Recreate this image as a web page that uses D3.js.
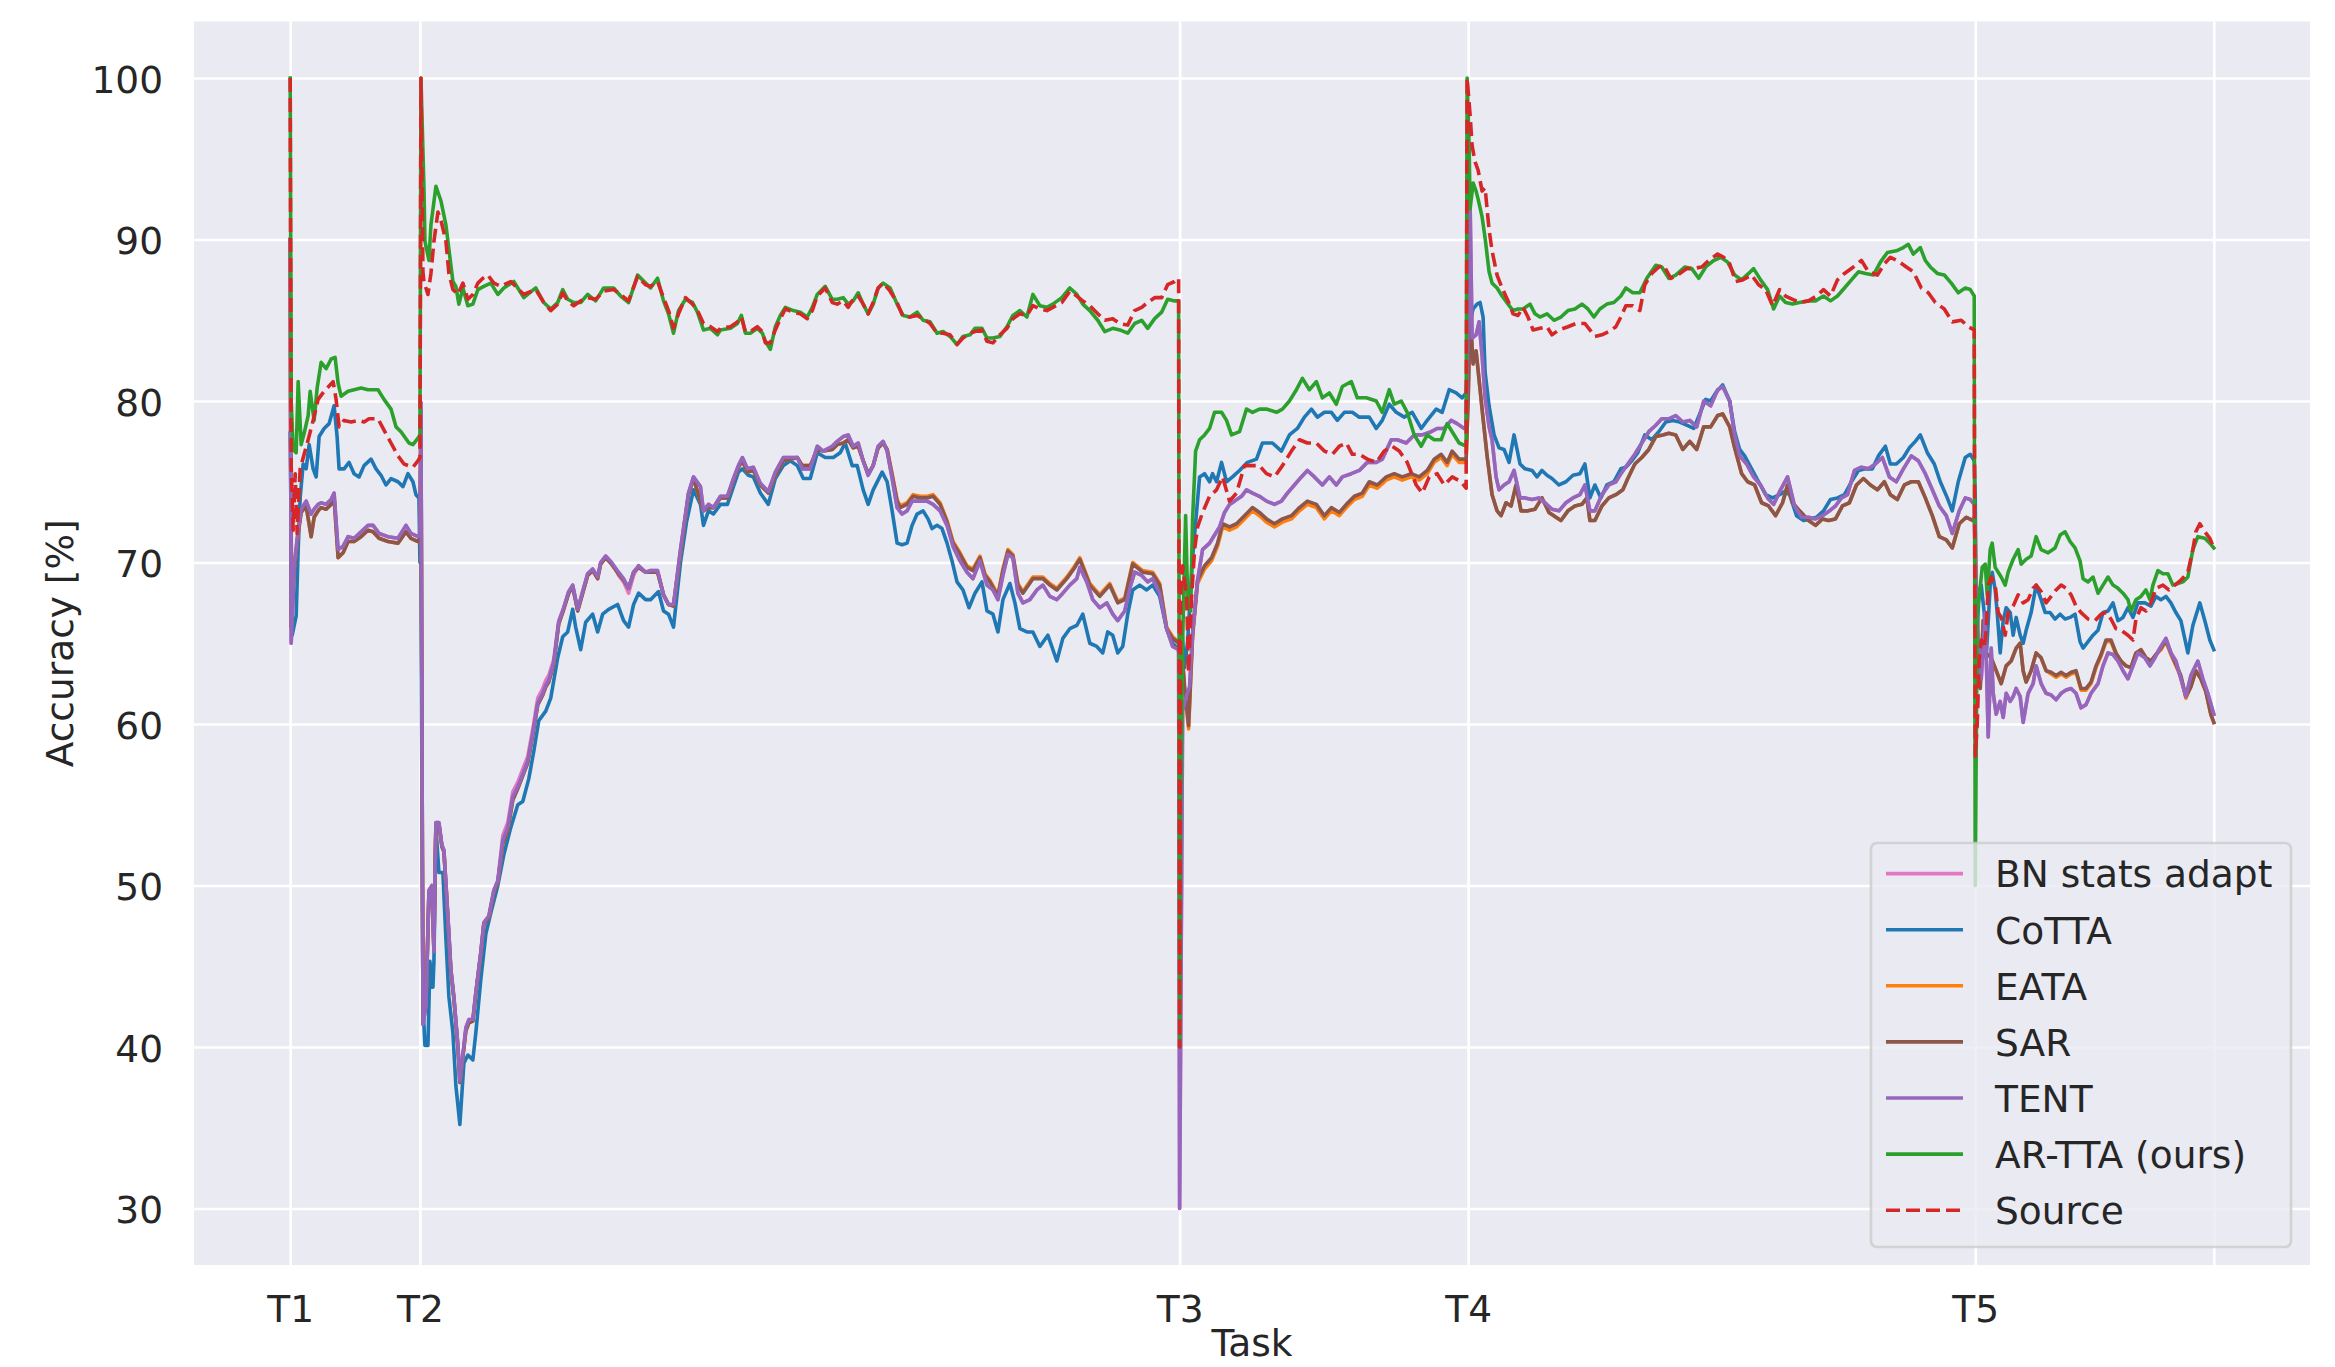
<!DOCTYPE html>
<html>
<head>
<meta charset="utf-8">
<script src="https://cdn.jsdelivr.net/npm/d3@7"></script>
<style>
  html, body { margin: 0; padding: 0; background: #fff; }
  svg { display: block; }
</style>
</head>
<body>
<div id="chart"></div>
<script>
// task boundaries (frame index) and their labels
const taskFrames = [0, 130, 891, 1180, 1688, 1927];
const taskLabels = ['T1', 'T2', 'T3', 'T4', 'T5', ''];
const accuracyTicks = [30, 40, 50, 60, 70, 80, 90, 100];
const methodNames = ['BN stats adapt', 'CoTTA', 'EATA', 'SAR', 'TENT', 'AR-TTA (ours)', 'Source'];

// accuracy [%] per method, as [frame, accuracy] pairs
const bnStatsAcc = [
  [0,90],[1,65],[4,69.8],[8,72],[11,73.3],[16,73.8],[21,73],[24,73.3],[28,73.6],[31,73.7],[36,73.6],[41,73.9],[44,74.3],[48,70.8],[53,71],[58,71.6],[64,71.5],[71,71.9],[78,72.3],[83,72.3],[89,71.8],[98,71.6],[108,71.5],[116,72.3],[121,71.8],[128,71.6],[130,71.8],
  [131,79.9],[132,60],[133,41.4],[136,42.5],[139,49.7],[142,50],[144,45.9],[145,50.8],[146,53.9],[149,53.9],[152,52.5],[154,52.2],[158,48.1],[161,44.8],[164,43.1],[168,40.1],[170,37.9],[173,39.5],[176,41.2],[179,41.7],[183,41.7],[186,43.4],[191,45.9],[194,47.7],[199,48.1],[204,49.7],[208,50.3],[213,53.1],[218,53.9],[223,55.8],[228,56.4],[233,57.2],[238,58],[243,59.7],[248,61.6],[253,62.2],[256,62.7],[259,63],[264,64],[269,66.4],[274,67.2],[279,68.2],[283,68.6],[288,67.1],[293,68.2],[298,69.3],[303,69.6],[308,69.1],[311,70],[316,70.4],[322,70],[329,69.2],[334,68.8],[339,68.1],[344,69.2],[349,69.8],[356,69.4],[361,69.5],[368,69.5],[374,68],[379,67.4],[384,67.4],[391,70.8],[399,74.3],[404,75.3],[411,74.7],[414,73.2],[419,73.6],[424,73.4],[431,74.1],[438,74.1],[444,75.2],[449,76],[453,76.5],[458,75.8],[464,75.9],[471,74.9],[479,74.4],[486,75.6],[494,76.5],[501,76.5],[508,76.5],[513,75.8],[521,75.8],[528,77.2],[534,76.9],[543,77.2],[548,77.5],[554,77.8],[559,77.9],[564,77.2],[569,77.4],[574,76.3],[579,75.4],[584,76],[589,77.2],[594,77.5],[598,76.9],[603,75.2],[608,73.4],[613,73],[618,73.2],[623,73.8],[631,73.8],[638,73.8],[644,73.6],[651,73.2],[658,72.3],[664,71],[671,70.1],[678,69.4],[684,69],[691,70.1],[698,68.6],[704,68.3],[709,67.7],[714,69.2],[719,70.5],[724,70.3],[729,68.1],[734,67.5],[741,67.7],[748,68.3],[754,68.6],[761,67.9],[768,67.7],[774,68.1],[781,68.6],[788,69],[791,69.7],[798,68.8],[804,67.7],[811,67.2],[818,67.5],[824,66.8],[829,66.4],[836,67],[842,68.6],[846,69.4],[853,69.2],[859,68.8],[864,69],[871,68.1],[878,65.9],[884,64.8],[890,64.6],
  [891,30],[894,60.8],[898,61.8],[901,62.3],[904,65.6],[909,68.9],[914,70.8],[921,71.2],[926,71.7],[931,72.2],[936,73.1],[941,73.6],[946,73.8],[953,74.1],[958,74.5],[964,74.3],[971,74.1],[978,73.8],[986,73.6],[993,73.8],[999,74.3],[1006,74.8],[1013,75.3],[1019,75.7],[1026,75.3],[1034,74.8],[1041,75.3],[1048,74.8],[1054,75.3],[1063,75.5],[1071,75.7],[1079,76.2],[1088,76.2],[1094,76.4],[1103,77.6],[1109,77.6],[1118,77.4],[1126,77.9],[1134,77.9],[1143,78.1],[1149,78.3],[1156,78.3],[1163,78.8],[1169,78.6],[1176,78.3],[1178,78.4],
  [1180,85],[1182,92.2],[1184,83.9],[1188,84.1],[1191,84.9],[1194,82.8],[1197,80.2],[1201,78.4],[1204,77.6],[1208,75.3],[1211,74.5],[1216,74.8],[1221,75],[1226,75.7],[1232,74],[1237,74],[1244,73.9],[1251,74],[1257,73.7],[1264,73.3],[1271,73.2],[1278,73.7],[1285,74],[1292,74.2],[1297,74.8],[1302,73.2],[1307,73.2],[1314,74.2],[1321,74.8],[1328,75],[1333,75.5],[1340,76.1],[1347,76.7],[1354,77.4],[1361,78.1],[1368,78.5],[1374,78.9],[1381,78.9],[1388,79.1],[1395,78.7],[1402,78.8],[1409,78.4],[1416,80],[1423,79.7],[1430,80.7],[1435,80.9],[1442,80],[1447,77.9],[1452,76.6],[1459,76.1],[1466,75.3],[1473,74.8],[1480,74],[1486,73.6],[1493,74.5],[1500,75.3],[1507,73.5],[1514,72.8],[1521,72.8],[1528,72.7],[1535,72.9],[1542,73.2],[1548,73.5],[1554,74],[1560,74.2],[1567,75.7],[1574,75.9],[1581,75.8],[1588,76.1],[1595,76.5],[1602,75.3],[1609,75],[1616,75.8],[1624,76.6],[1631,76.3],[1638,75.5],[1645,74.5],[1652,73.5],[1659,72.9],[1665,71.8],[1672,73.2],[1678,74],[1683,73.9],[1687,73.6],
  [1688,70],[1691,65.3],[1694,62.8],[1698,66.9],[1701,59.2],[1704,64.7],[1706,61.9],[1709,60.6],[1713,61.4],[1716,60.4],[1719,61.9],[1723,61.4],[1726,61.7],[1729,62.2],[1733,61.7],[1736,60.1],[1741,61.9],[1746,62.5],[1749,63.6],[1754,62.5],[1759,61.9],[1764,61.8],[1769,61.5],[1774,61.9],[1779,62.1],[1784,62.2],[1789,61.9],[1794,61],[1799,61.2],[1804,61.9],[1811,62.5],[1816,63.6],[1821,64.4],[1826,64.3],[1831,63.9],[1836,63.3],[1841,62.8],[1846,63.6],[1851,64.4],[1858,64.1],[1863,63.6],[1868,64.1],[1873,64.7],[1879,65.3],[1884,64.4],[1889,63.9],[1894,62.8],[1899,61.7],[1904,63],[1911,63.9],[1916,62.8],[1921,61.9],[1927,60.6]
];

const cottaAcc = [
  [0,78],[2,65.5],[6,66.7],[8,70.8],[10,74],[13,76.1],[16,75.8],[19,77.3],[23,75.8],[26,75.3],[29,77.8],[34,78.3],[39,78.6],[44,79.7],[47,77.8],[49,75.8],[54,75.8],[59,76.2],[64,75.5],[69,75.3],[74,76],[81,76.4],[86,75.8],[91,75.4],[96,74.8],[101,75.2],[108,75],[113,74.7],[118,75.5],[123,75],[126,74.2],[129,74],[130,70],
  [131,70],[132,55],[133,42.6],[135,40.1],[138,40.1],[140,45.3],[142,43.7],[143,43.7],[144,45.3],[146,53.6],[149,50.8],[153,50.8],[156,46.7],[159,43.1],[163,40.9],[166,37.6],[170,35.2],[174,39],[178,39.5],[183,39.2],[186,40.9],[191,44.2],[196,47],[201,48.3],[208,50],[214,51.9],[221,53.6],[228,55],[233,55.2],[239,56.6],[244,58.3],[249,60.2],[256,60.8],[261,61.6],[268,64.1],[273,65.4],[278,65.7],[283,67.1],[286,66],[291,64.6],[296,66.3],[303,66.8],[308,65.7],[313,66.8],[319,67.1],[328,67.4],[334,66.4],[339,66],[344,67.4],[349,68.1],[356,67.7],[361,67.7],[369,68.2],[374,67],[379,66.8],[384,66],[391,70],[397,72.5],[404,74.5],[411,73.6],[414,72.3],[419,73.2],[424,73],[431,73.6],[438,73.6],[444,74.7],[449,75.6],[453,75.8],[459,75.4],[464,75.3],[471,74.3],[479,73.6],[486,75.2],[494,76],[501,76.3],[508,76],[514,75.2],[521,75.2],[528,76.8],[536,76.5],[544,76.5],[551,76.8],[556,77.4],[563,76],[568,76],[574,74.5],[579,73.6],[584,74.5],[593,75.6],[598,75],[603,73.2],[608,71.2],[613,71.1],[618,71.2],[623,72.3],[628,73],[634,73.2],[639,72.7],[643,72.1],[648,72.3],[653,72.1],[658,71.2],[663,70.1],[668,68.8],[674,68.3],[680,67.2],[686,68.1],[693,68.8],[698,67],[704,66.8],[709,65.7],[714,67.7],[721,68.7],[726,67.5],[731,65.9],[738,65.7],[744,65.7],[751,64.8],[759,65.5],[768,63.9],[774,65.3],[781,65.9],[788,66.1],[794,66.8],[801,65],[808,64.8],[814,64.4],[819,65.7],[824,65.5],[829,64.4],[834,64.8],[839,66.8],[844,68.3],[851,68.6],[858,68.3],[864,68.6],[871,67.9],[878,65.9],[884,65],[890,64.6],
  [891,62],[893,66],[896,63.5],[899,65.1],[904,70.3],[911,75.3],[916,75.5],[921,75],[924,75.5],[928,75],[933,76.2],[938,75],[944,75.3],[951,75.7],[959,76.2],[968,76.4],[974,77.4],[984,77.4],[993,76.9],[1001,77.9],[1009,78.3],[1016,79],[1023,79.5],[1029,79],[1036,79.3],[1043,79.3],[1049,78.8],[1056,79.3],[1064,79.3],[1071,79],[1081,79],[1088,78.3],[1094,78.8],[1101,79.8],[1108,79.3],[1116,79],[1124,79.3],[1133,78.3],[1139,78.8],[1148,79.5],[1154,79.3],[1161,80.7],[1168,80.5],[1174,80.2],[1178,80.5],
  [1180,82.8],[1182,84.9],[1185,85.7],[1189,86],[1192,86.1],[1195,85.2],[1197,81.8],[1201,79.7],[1206,77.9],[1211,77.1],[1216,77],[1221,76.2],[1226,77.9],[1232,76.1],[1237,75.8],[1244,75.7],[1249,75.3],[1254,75.7],[1259,75.4],[1264,75.2],[1271,74.8],[1278,75],[1285,75.4],[1292,75.5],[1297,76.1],[1302,74],[1307,74.8],[1313,74],[1319,74.8],[1326,75],[1333,75.8],[1338,75.9],[1344,76.3],[1350,76.8],[1357,77.9],[1364,77.6],[1371,78.1],[1378,78.7],[1385,78.8],[1392,78.7],[1399,78.5],[1406,78.3],[1412,79.2],[1418,80.1],[1423,80],[1428,80.5],[1435,81],[1442,80],[1447,78.1],[1452,77],[1457,76.6],[1464,75.8],[1471,75],[1478,74.2],[1485,74],[1492,74.2],[1497,74.4],[1502,74.2],[1509,72.9],[1516,72.6],[1523,72.7],[1529,72.8],[1536,73.2],[1543,73.9],[1550,74],[1557,74.2],[1564,75],[1571,75.7],[1578,75.8],[1585,75.8],[1591,76.6],[1598,77.2],[1603,76.1],[1609,76.1],[1616,76.5],[1622,77.1],[1628,77.5],[1633,77.9],[1640,76.8],[1647,76.1],[1653,75],[1660,74],[1665,73.2],[1671,75],[1678,76.5],[1683,76.7],[1687,76.3],
  [1688,74],[1689,64.7],[1692,68.3],[1694,68.6],[1697,66.9],[1699,64.1],[1703,68.6],[1705,69.4],[1708,68.3],[1710,66.9],[1713,64.4],[1716,66.4],[1719,67.2],[1723,66.9],[1726,65.5],[1729,66.6],[1733,65.5],[1736,65],[1739,65.8],[1744,66.9],[1749,68.6],[1754,67.7],[1758,66.9],[1763,66.9],[1768,66.5],[1773,66.8],[1778,66.5],[1783,66.6],[1788,66.8],[1793,65.1],[1796,64.7],[1801,65.1],[1806,65.5],[1811,65.8],[1816,66.9],[1821,67],[1826,67.5],[1831,66.4],[1836,66.6],[1841,67.2],[1846,66.6],[1851,67.5],[1858,67.5],[1864,67.3],[1869,67.9],[1874,67.7],[1879,67.9],[1884,67.5],[1889,66.9],[1894,66.4],[1901,64.4],[1906,66.1],[1913,67.5],[1918,66.4],[1923,65.2],[1927,64.6]
];

const eataAcc = [
  [0,90],[1,66],[4,69.5],[8,71.8],[11,73.1],[16,73.5],[21,71.6],[24,72.8],[28,73.2],[31,73.4],[36,73.3],[41,73.6],[44,74],[48,70.3],[53,70.6],[58,71.3],[64,71.3],[71,71.6],[78,72],[83,71.9],[89,71.5],[98,71.3],[108,71.2],[116,71.9],[121,71.5],[128,71.3],[130,71.5],
  [131,79.5],[132,60],[133,41.6],[136,42.6],[139,49.5],[142,49.9],[144,46],[145,50.6],[146,53.7],[149,53.8],[152,52.4],[154,52.1],[158,48],[161,44.7],[164,43],[168,40],[170,37.8],[173,39.4],[176,41],[179,41.5],[183,41.6],[186,43.3],[191,45.8],[194,47.6],[199,48],[204,49.6],[208,50.2],[213,52.6],[218,53.4],[223,55.3],[228,56],[233,56.8],[238,57.6],[243,59.3],[248,61.2],[253,61.8],[256,62.3],[259,62.6],[264,63.7],[269,66.2],[274,67.1],[279,68.1],[283,68.5],[288,67],[293,68.1],[298,69.2],[303,69.5],[308,69],[311,69.9],[316,70.3],[322,69.9],[329,69.3],[334,68.9],[339,68.4],[344,69.4],[349,69.7],[356,69.4],[361,69.4],[368,69.4],[374,68],[379,67.4],[384,67.3],[391,70.6],[399,74.2],[404,75.2],[411,73.8],[414,73.2],[419,73.4],[424,73.4],[431,74],[438,74],[444,75.1],[449,75.9],[453,76.3],[458,75.6],[464,75.7],[471,74.8],[479,74.3],[486,75.4],[494,76.3],[501,76.4],[508,76.5],[513,76],[521,76],[528,77],[534,76.9],[543,77],[548,77.3],[554,77.4],[559,77.6],[564,77.1],[569,77.2],[574,76.3],[579,75.5],[584,76],[589,77.1],[594,77.4],[598,77],[603,75.5],[608,73.9],[611,73.5],[618,73.7],[624,74.2],[631,74.1],[638,74.1],[644,74.2],[651,73.7],[658,72.6],[664,71.3],[671,70.6],[678,69.8],[684,69.6],[691,70.4],[696,69.3],[701,68.9],[709,68],[714,69.6],[719,70.8],[724,70.5],[729,68.7],[734,68.2],[744,69.1],[754,69.1],[761,68.7],[768,68.4],[778,69.1],[785,69.7],[791,70.3],[801,68.7],[811,68],[821,68.7],[829,67.6],[836,67.8],[844,70],[854,69.5],[864,69.4],[871,68.7],[878,66],[884,65.4],[890,65.1],
  [891,63.8],[892,65.4],[896,62.1],[900,59.7],[904,65.4],[909,68.7],[916,69.6],[923,70.1],[929,71],[934,72.2],[941,72],[948,72.2],[956,72.7],[964,73.2],[971,72.9],[978,72.5],[986,72.2],[994,72.5],[1003,72.7],[1011,73.2],[1019,73.6],[1028,73.4],[1036,72.7],[1043,73.2],[1051,72.9],[1058,73.4],[1066,73.9],[1074,74.1],[1081,74.8],[1089,74.6],[1098,75.1],[1106,75.3],[1114,75.1],[1123,75.3],[1131,75.1],[1139,75.5],[1146,76.2],[1153,76.5],[1159,76],[1164,76.7],[1171,76.2],[1178,76.2],
  [1180,80],[1182,85.4],[1185,82.3],[1188,83.1],[1191,81.3],[1195,78.9],[1199,76.6],[1204,74.2],[1209,73.2],[1213,72.9],[1218,73.7],[1223,73.5],[1228,74.8],[1233,73.2],[1240,73.2],[1247,73.3],[1254,74],[1261,73.1],[1268,72.8],[1273,72.6],[1280,73.2],[1287,73.5],[1294,73.6],[1299,74],[1302,72.6],[1307,72.6],[1314,73.5],[1321,74],[1328,74.2],[1335,74.5],[1340,75.2],[1347,76.1],[1354,76.5],[1361,77],[1368,77.8],[1375,77.9],[1381,78],[1388,77.9],[1395,77],[1402,77.5],[1409,77],[1416,78.4],[1423,78.4],[1430,79.1],[1435,79.2],[1442,78.4],[1447,77.1],[1454,75.5],[1460,75],[1467,74.8],[1474,73.7],[1481,73.5],[1488,72.9],[1495,73.7],[1500,74.8],[1505,73.7],[1512,73.2],[1521,72.6],[1528,72.3],[1535,72.7],[1541,72.6],[1548,72.7],[1555,73.5],[1562,73.7],[1569,74.8],[1576,75.2],[1583,74.8],[1590,74.5],[1597,75],[1603,74.2],[1610,73.9],[1617,74.8],[1624,75],[1631,75],[1638,74],[1645,72.9],[1652,71.6],[1659,71.4],[1665,70.9],[1672,72.4],[1679,72.8],[1686,72.6],[1687,72.8],
  [1688,72],[1689,65.3],[1693,62.2],[1696,66.4],[1699,64.4],[1704,64.1],[1709,63.3],[1714,62.5],[1719,63.6],[1724,63.9],[1729,64.7],[1733,65],[1736,63.3],[1739,62.6],[1744,63.3],[1749,64.4],[1754,64.1],[1759,63.3],[1764,63.1],[1769,62.9],[1774,63.1],[1779,62.9],[1784,63.1],[1789,63.2],[1794,62.1],[1799,62.1],[1804,62.5],[1809,63.5],[1814,64.2],[1819,65.1],[1824,65.1],[1829,64.3],[1834,63.9],[1839,63.6],[1844,63.5],[1849,64.4],[1854,64.6],[1859,64.1],[1864,63.9],[1869,64.3],[1874,64.6],[1879,65.1],[1884,64.3],[1889,63.6],[1894,62.9],[1899,61.6],[1904,62.3],[1909,63.3],[1914,62.8],[1919,62],[1924,60.6],[1927,60.1]
];

const sarAcc = [
  [0,90],[1,66],[4,69.5],[8,71.8],[11,73.1],[16,73.5],[21,71.6],[24,72.8],[28,73.2],[31,73.4],[36,73.3],[41,73.6],[44,74],[48,70.3],[53,70.6],[58,71.3],[64,71.3],[71,71.6],[78,72],[83,71.9],[89,71.5],[98,71.3],[108,71.2],[116,71.9],[121,71.5],[128,71.3],[130,71.5],
  [131,79.5],[132,60],[133,41.6],[136,42.6],[139,49.5],[142,49.9],[144,46],[145,50.6],[146,53.7],[149,53.8],[152,52.4],[154,52.1],[158,48],[161,44.7],[164,43],[168,40],[170,37.8],[173,39.4],[176,41],[179,41.5],[183,41.6],[186,43.3],[191,45.8],[194,47.6],[199,48],[204,49.6],[208,50.2],[213,52.6],[218,53.4],[223,55.3],[228,56],[233,56.8],[238,57.6],[243,59.3],[248,61.2],[253,61.8],[256,62.3],[259,62.6],[264,63.7],[269,66.2],[274,67.1],[279,68.1],[283,68.5],[288,67],[293,68.1],[298,69.2],[303,69.5],[308,69],[311,69.9],[316,70.3],[322,69.9],[329,69.3],[334,68.9],[339,68.4],[344,69.4],[349,69.7],[356,69.4],[361,69.4],[368,69.4],[374,68],[379,67.4],[384,67.3],[391,70.6],[399,74.2],[404,75.2],[411,73.8],[414,73.2],[419,73.4],[424,73.4],[431,74],[438,74],[444,75.1],[449,75.9],[453,76.3],[458,75.6],[464,75.7],[471,74.8],[479,74.3],[486,75.4],[494,76.3],[501,76.4],[508,76.5],[513,76],[521,76],[528,77],[534,76.9],[543,77],[548,77.3],[554,77.4],[559,77.6],[564,77.1],[569,77.2],[574,76.3],[579,75.5],[584,76],[589,77.1],[594,77.4],[598,77],[603,75.4],[608,73.8],[611,73.4],[618,73.6],[624,74.1],[631,74],[638,74],[644,74.1],[651,73.6],[658,72.5],[664,71.2],[671,70.5],[678,69.7],[684,69.5],[691,70.3],[696,69.2],[701,68.8],[709,67.9],[714,69.5],[719,70.7],[724,70.4],[729,68.6],[734,68.1],[744,69],[754,69],[761,68.6],[768,68.3],[778,69],[785,69.6],[791,70.2],[801,68.6],[811,67.9],[821,68.6],[829,67.5],[836,67.7],[844,69.9],[854,69.4],[864,69.3],[871,68.6],[878,65.9],[884,65.3],[890,65],
  [891,64],[892,65.6],[896,62.3],[900,59.9],[904,65.6],[909,68.9],[916,69.8],[923,70.3],[929,71.2],[934,72.4],[941,72.2],[948,72.4],[956,72.9],[964,73.4],[971,73.1],[978,72.7],[986,72.4],[994,72.7],[1003,72.9],[1011,73.4],[1019,73.8],[1028,73.6],[1036,72.9],[1043,73.4],[1051,73.1],[1058,73.6],[1066,74.1],[1074,74.3],[1081,75],[1089,74.8],[1098,75.3],[1106,75.5],[1114,75.3],[1123,75.5],[1131,75.3],[1139,75.7],[1146,76.4],[1153,76.7],[1159,76.2],[1164,76.9],[1171,76.4],[1178,76.4],
  [1180,80],[1182,85.4],[1185,82.3],[1188,83.1],[1191,81.3],[1195,78.9],[1199,76.6],[1204,74.2],[1209,73.2],[1213,72.9],[1218,73.7],[1223,73.5],[1228,74.8],[1233,73.2],[1240,73.2],[1247,73.3],[1254,74],[1261,73.1],[1268,72.8],[1273,72.6],[1280,73.2],[1287,73.5],[1294,73.6],[1299,74],[1302,72.6],[1307,72.6],[1314,73.5],[1321,74],[1328,74.2],[1335,74.5],[1340,75.2],[1347,76.1],[1354,76.5],[1361,77],[1368,77.8],[1375,77.9],[1381,78],[1388,77.9],[1395,77],[1402,77.5],[1409,77],[1416,78.4],[1423,78.4],[1430,79.1],[1435,79.2],[1442,78.4],[1447,77.1],[1454,75.5],[1460,75],[1467,74.8],[1474,73.7],[1481,73.5],[1488,72.9],[1495,73.7],[1500,74.8],[1505,73.7],[1512,73.2],[1521,72.6],[1528,72.3],[1535,72.7],[1541,72.6],[1548,72.7],[1555,73.5],[1562,73.7],[1569,74.8],[1576,75.2],[1583,74.8],[1590,74.5],[1597,75],[1603,74.2],[1610,73.9],[1617,74.8],[1624,75],[1631,75],[1638,74],[1645,72.9],[1652,71.6],[1659,71.4],[1665,70.9],[1672,72.4],[1679,72.8],[1686,72.6],[1687,72.8],
  [1688,72],[1689,65.3],[1693,62.2],[1696,66.4],[1699,64.4],[1704,64.1],[1709,63.3],[1714,62.5],[1719,63.6],[1724,63.9],[1729,64.7],[1733,65],[1736,63.3],[1739,62.6],[1744,63.3],[1749,64.4],[1754,64.1],[1759,63.3],[1764,63.2],[1769,63],[1774,63.2],[1779,63],[1784,63.2],[1789,63.3],[1794,62.2],[1799,62.2],[1804,62.6],[1809,63.6],[1814,64.3],[1819,65.2],[1824,65.2],[1829,64.4],[1834,63.9],[1839,63.6],[1844,63.5],[1849,64.4],[1854,64.6],[1859,64.1],[1864,63.9],[1869,64.3],[1874,64.7],[1879,65.2],[1884,64.4],[1889,63.7],[1894,63],[1899,61.7],[1904,62.3],[1909,63.3],[1914,62.8],[1919,62],[1924,60.6],[1927,60.1]
];

const tentAcc = [
  [0,90],[1,65],[4,69.8],[8,72],[11,73.3],[16,73.8],[21,73],[24,73.3],[28,73.6],[31,73.7],[36,73.6],[41,73.9],[44,74.3],[48,70.8],[53,71],[58,71.6],[64,71.5],[71,71.9],[78,72.3],[83,72.3],[89,71.8],[98,71.6],[108,71.5],[116,72.3],[121,71.8],[128,71.6],[130,71.8],
  [131,79.9],[132,60],[133,41.4],[136,42.5],[139,49.7],[142,50],[144,45.9],[145,50.8],[146,53.9],[149,53.9],[152,52.5],[154,52.2],[158,48.1],[161,44.8],[164,43.1],[168,40.1],[170,37.9],[173,39.5],[176,41.2],[179,41.7],[183,41.7],[186,43.4],[191,45.9],[194,47.7],[199,48.1],[204,49.7],[208,50.3],[213,52.8],[218,53.6],[223,55.5],[228,56.1],[233,56.9],[238,57.7],[243,59.4],[248,61.3],[253,61.9],[256,62.4],[259,62.7],[264,63.8],[269,66.3],[274,67.2],[279,68.2],[283,68.6],[288,67.1],[293,68.2],[298,69.3],[303,69.6],[308,69.1],[311,70],[316,70.4],[322,70],[329,69.4],[334,69],[339,68.4],[344,69.4],[349,69.8],[356,69.4],[361,69.5],[368,69.5],[374,68],[379,67.4],[384,67.4],[391,70.8],[399,74.3],[404,75.3],[411,74.7],[414,73.2],[419,73.6],[424,73.4],[431,74.1],[438,74.1],[444,75.2],[449,76],[453,76.5],[458,75.8],[464,75.9],[471,74.9],[479,74.4],[486,75.6],[494,76.5],[501,76.5],[508,76.5],[513,75.8],[521,75.8],[528,77.2],[534,76.9],[543,77.2],[548,77.5],[554,77.8],[559,77.9],[564,77.2],[569,77.4],[574,76.3],[579,75.4],[584,76],[589,77.2],[594,77.5],[598,76.9],[603,75.2],[608,73.4],[613,73],[618,73.2],[623,73.8],[631,73.8],[638,73.8],[644,73.6],[651,73.2],[658,72.3],[664,71],[671,70.1],[678,69.4],[684,69],[691,70.1],[698,68.6],[704,68.3],[709,67.7],[714,69.2],[719,70.5],[724,70.3],[729,68.1],[734,67.5],[741,67.7],[748,68.3],[754,68.6],[761,67.9],[768,67.7],[774,68.1],[781,68.6],[788,69],[791,69.7],[798,68.8],[804,67.7],[811,67.2],[818,67.5],[824,66.8],[829,66.4],[836,67],[842,68.6],[846,69.4],[853,69.2],[859,68.8],[864,69],[871,68.1],[878,65.9],[884,64.8],[890,64.6],
  [891,30],[894,60.8],[898,61.8],[901,62.3],[904,65.6],[909,68.9],[914,70.8],[921,71.2],[926,71.7],[931,72.2],[936,73.1],[941,73.6],[946,73.8],[953,74.1],[958,74.5],[964,74.3],[971,74.1],[978,73.8],[986,73.6],[993,73.8],[999,74.3],[1006,74.8],[1013,75.3],[1019,75.7],[1026,75.3],[1034,74.8],[1041,75.3],[1048,74.8],[1054,75.3],[1063,75.5],[1071,75.7],[1079,76.2],[1088,76.2],[1094,76.4],[1103,77.6],[1109,77.6],[1118,77.4],[1126,77.9],[1134,77.9],[1143,78.1],[1149,78.3],[1156,78.3],[1163,78.8],[1169,78.6],[1176,78.3],[1178,78.4],
  [1180,85],[1182,92.2],[1184,83.9],[1188,84.1],[1191,84.9],[1194,82.8],[1197,80.2],[1201,78.4],[1204,77.6],[1208,75.3],[1211,74.5],[1216,74.8],[1221,75],[1226,75.7],[1232,74],[1237,74],[1244,73.9],[1251,74],[1257,73.7],[1264,73.3],[1271,73.2],[1278,73.7],[1285,74],[1292,74.2],[1297,74.8],[1302,73.2],[1307,73.2],[1314,74.2],[1321,74.8],[1328,75],[1333,75.5],[1340,76.1],[1347,76.7],[1354,77.4],[1361,78.1],[1368,78.5],[1374,78.9],[1381,78.9],[1388,79.1],[1395,78.7],[1402,78.8],[1409,78.4],[1416,80],[1423,79.7],[1430,80.7],[1435,80.9],[1442,80],[1447,77.9],[1452,76.6],[1459,76.1],[1466,75.3],[1473,74.8],[1480,74],[1486,73.6],[1493,74.5],[1500,75.3],[1507,73.5],[1514,72.8],[1521,72.8],[1528,72.7],[1535,72.9],[1542,73.2],[1548,73.5],[1554,74],[1560,74.2],[1567,75.7],[1574,75.9],[1581,75.8],[1588,76.1],[1595,76.5],[1602,75.3],[1609,75],[1616,75.8],[1624,76.6],[1631,76.3],[1638,75.5],[1645,74.5],[1652,73.5],[1659,72.9],[1665,71.8],[1672,73.2],[1678,74],[1683,73.9],[1687,73.6],
  [1688,70],[1691,65.3],[1694,62.8],[1698,66.9],[1701,59.2],[1704,64.7],[1706,61.9],[1709,60.6],[1713,61.4],[1716,60.4],[1719,61.9],[1723,61.4],[1726,61.7],[1729,62.2],[1733,61.7],[1736,60.1],[1741,61.9],[1746,62.5],[1749,63.6],[1754,62.5],[1759,61.9],[1764,61.8],[1769,61.5],[1774,61.9],[1779,62.1],[1784,62.2],[1789,61.9],[1794,61],[1799,61.2],[1804,61.9],[1811,62.5],[1816,63.6],[1821,64.4],[1826,64.3],[1831,63.9],[1836,63.3],[1841,62.8],[1846,63.6],[1851,64.4],[1858,64.1],[1863,63.6],[1868,64.1],[1873,64.7],[1879,65.3],[1884,64.4],[1889,63.9],[1894,62.8],[1899,61.7],[1904,63],[1911,63.9],[1916,62.8],[1921,61.9],[1927,60.6]
];

const arttaAcc = [
  [0,100],[1,80],[3,77],[6,76.8],[8,81.2],[11,77.3],[14,78],[18,79.1],[20,80.6],[24,78.8],[27,80.8],[31,82.4],[36,82],[41,82.6],[45,82.7],[48,81.1],[51,80.3],[58,80.6],[64,80.7],[71,80.8],[78,80.7],[88,80.7],[94,80.1],[101,79.5],[106,78.4],[111,78.1],[119,77.4],[123,77.3],[128,77.7],[130,77.9],
  [131,100],[134,93.2],[135,89.9],[139,88.7],[141,90.9],[146,93.3],[151,92.4],[156,90.9],[159,89.4],[163,87.4],[166,87.1],[169,86],[173,87],[178,85.9],[183,86],[188,86.9],[194,87.1],[201,87.3],[208,86.6],[214,87],[224,87.4],[234,86.4],[246,87],[254,86.1],[261,85.7],[268,86.1],[273,86.9],[278,86.3],[284,86.1],[291,86.1],[298,86.6],[306,86.2],[314,87],[324,87],[331,86.5],[339,86.1],[348,87.8],[356,87.3],[361,87],[368,87.6],[374,86.2],[379,85.4],[384,84.2],[389,85.6],[396,86.3],[403,86.1],[408,85.5],[414,84.4],[421,84.5],[428,84.1],
  [431,84.4],[441,84.5],[448,84.8],[452,85.3],[456,84.2],[461,84.2],[468,84.5],[473,84.2],[476,83.7],[481,83.2],[486,84.6],[491,85.3],[496,85.8],[504,85.6],[511,85.5],[518,85.2],[523,85.8],[528,86.6],[536,87.1],[543,86.3],[548,86.3],[554,86.4],[559,86],[564,86.2],[569,86.7],[574,86],[579,85.4],[584,86],[589,87],[594,87.3],[601,87],[608,86],[614,85.3],[621,85.2],[628,85.5],[634,85],[641,84.9],[648,84.2],[654,84.3],[661,84],[668,83.5],[674,84],[681,84.1],[686,84.5],[693,84.5],[698,83.9],[704,83.9],[711,84],[718,84.6],[724,85.3],[731,85.6],[738,85.2],[744,86.6],[751,85.9],[758,85.8],[764,86],[773,86.4],[781,87],[788,86.6],[794,86],[801,85.6],[809,85],[816,84.3],[824,84.5],[831,84.4],[839,84.2],[846,84.8],[853,85],[859,84.5],[866,85.1],[873,85.5],[879,86.3],[886,86.2],[890,86.2],
  [891,40],[892,55],[894,65.1],[897,72.9],[899,67.9],[902,67],[904,72.7],[907,76.9],[911,77.6],[916,77.9],[921,78.3],[926,79.3],[933,79.3],[938,78.8],[943,77.9],[951,78.1],[958,79.5],[964,79.3],[971,79.5],[978,79.5],[988,79.3],[994,79.5],[1001,80],[1008,80.7],[1014,81.4],[1021,80.7],[1028,81.2],[1034,80.2],[1041,80.5],[1048,79.8],[1054,80.9],[1063,81.2],[1069,80.2],[1078,80.2],[1088,80],[1094,79.3],[1101,80.7],[1106,79.8],[1113,80],[1119,79.3],[1126,77.9],[1133,77.2],[1139,77.9],[1146,77.6],[1153,77.6],[1159,78.6],[1164,78.1],[1171,77.4],[1178,77.2],
  [1179,100],[1181,95.8],[1182,91.9],[1185,93.5],[1188,93],[1190,92.5],[1194,91.4],[1197,90.1],[1201,88],[1204,87.3],[1209,87],[1214,86.5],[1220,86],[1225,85.6],[1230,85.7],[1235,85.7],[1242,86],[1247,85.4],[1252,85.2],[1259,85.4],[1266,85],[1273,85.2],[1280,85.6],[1287,85.7],[1294,86],[1300,85.7],[1306,85.2],[1312,85.7],[1319,86],[1326,86.1],[1333,86.5],[1338,87],[1345,86.7],[1352,86.7],[1359,87.6],[1368,88.4],[1374,88.3],[1381,87.6],[1388,87.8],[1397,88.3],[1404,88.2],[1411,87.6],[1418,88.3],[1426,88.7],[1433,88.9],[1440,88.6],[1447,87.8],[1454,87.5],[1461,87.9],[1466,88.2],[1473,87.5],[1480,86.9],[1486,85.7],[1492,86.5],[1498,86.1],[1505,86],[1512,86.1],[1521,86.2],[1528,86.2],[1536,86.5],[1543,86.2],[1550,86.5],[1557,87],[1564,87.5],[1571,88],[1578,87.9],[1586,87.8],[1593,88.6],[1600,89.2],[1609,89.3],[1616,89.5],[1621,89.7],[1626,89.1],[1633,89.5],[1638,88.7],[1643,88.3],[1650,87.9],[1657,87.8],[1664,87.3],[1671,86.7],[1678,87],[1683,86.9],[1687,86.5],
  [1688,50],[1690,66.9],[1693,68.5],[1695,69.7],[1698,69.9],[1700,68],[1703,70.8],[1705,71.2],[1708,69.7],[1711,69.4],[1714,69.1],[1718,68.6],[1721,69.4],[1726,70.2],[1731,70.8],[1734,69.9],[1739,70.2],[1744,70.4],[1749,71.6],[1754,70.8],[1761,70.6],[1768,70.9],[1773,71.7],[1778,71.9],[1783,71.3],[1788,70.9],[1793,70.1],[1796,69],[1801,68.8],[1806,69.1],[1811,68.1],[1816,68.6],[1821,69.1],[1826,68.6],[1831,68.4],[1836,68.1],[1841,67.7],[1844,67],[1849,67.7],[1854,67.9],[1859,68.3],[1863,67.7],[1866,68.6],[1871,69.5],[1876,69.3],[1881,69.3],[1886,68.6],[1891,68.7],[1896,68.8],[1901,69.1],[1906,70.8],[1911,71.6],[1918,71.5],[1923,71.2],[1927,70.9]
];

const sourceAcc = [
  [0,100],[1,76],[3,72],[5,75.5],[7,71.8],[10,75.8],[18,77.6],[23,78.8],[28,80.1],[34,80.6],[43,81.2],[46,80.1],[49,78.4],[54,78.8],[61,78.7],[68,78.8],[74,78.7],[79,78.9],[88,78.9],[94,78.2],[101,77.4],[108,76.6],[114,76.1],[123,75.9],[128,76.3],[130,76.5],
  [131,100],[133,88],[134,87.4],[138,86.6],[141,87.9],[144,89.9],[148,91.7],[151,91.2],[156,89.9],[159,87.9],[163,86.9],[168,86.6],[173,87.3],[178,86.3],[183,86.6],[188,87.3],[193,87.6],[198,87.8],[204,87.3],[211,87.1],[221,87.4],[234,86.6],[246,86.9],[254,86.1],[261,85.6],[268,86],[273,86.7],[278,86.2],[284,85.9],[291,86.2],[298,86.4],[306,86.3],[314,86.8],[324,86.9],[331,86.6],[339,86.2],[348,87.7],[356,87.2],[361,87.1],[368,87.4],[374,86.4],[379,85.6],[384,84.5],[389,85.4],[396,86.4],[403,86],[408,85.6],[414,84.8],[421,84.6],[428,84.3],
  [431,84.5],[441,84.6],[448,84.9],[452,85.2],[456,84.3],[461,84.3],[468,84.6],[473,84.3],[476,83.6],[481,83.6],[486,84.4],[491,85.1],[496,85.7],[504,85.5],[511,85.4],[518,85.1],[523,85.6],[528,86.5],[536,87],[543,86.1],[548,86],[554,86.2],[559,85.8],[564,86.3],[569,86.5],[574,86],[579,85.4],[584,86.1],[589,87],[594,87.3],[601,86.8],[608,86.1],[614,85.2],[621,85.2],[628,85.3],[634,85.1],[641,84.8],[648,84.2],[654,84.2],[661,84.1],[668,83.5],[674,83.9],[681,84.2],[686,84.3],[693,84.4],[698,83.7],[704,83.6],[711,84.1],[718,84.5],[724,85.1],[731,85.4],[738,85.3],[744,85.9],[751,85.7],[758,85.6],[764,85.8],[773,86.1],[781,86.8],[788,86.5],[794,86.2],[801,85.9],[809,85.4],[816,85],[824,85.1],[831,84.8],[839,84.7],[846,85.6],[853,85.8],[859,86.1],[866,86.4],[873,86.4],[879,87.2],[886,87.4],[890,87.6],
  [891,40],[892,67.9],[894,69.8],[898,67.9],[900,63.2],[903,67.9],[906,70.8],[909,72.2],[914,73.1],[921,74.1],[928,74.5],[934,75.3],[941,73.8],[948,74.3],[956,76],[964,76],[971,76],[978,75.5],[986,75.3],[994,76],[1003,76.9],[1011,77.6],[1019,77.4],[1028,77.4],[1036,76.9],[1044,76.7],[1051,77.2],[1058,77.4],[1064,76.7],[1071,76.7],[1079,76.4],[1088,76.2],[1096,76.9],[1104,77.2],[1111,76.9],[1119,76.2],[1128,74.8],[1134,74.3],[1141,75.3],[1149,75.5],[1156,74.8],[1164,75.3],[1173,75],[1178,74.6],
  [1179,100],[1182,97.7],[1184,95.8],[1187,94.8],[1190,94.3],[1194,93],[1197,93.2],[1201,90.6],[1204,89.3],[1209,87.8],[1214,87],[1220,86.2],[1225,85.4],[1230,85.3],[1235,85.8],[1240,85.2],[1245,84.4],[1252,84.5],[1259,84.6],[1264,84.1],[1271,84.4],[1280,84.6],[1288,84.8],[1297,84.8],[1302,84.4],[1307,84],[1314,84.1],[1321,84.3],[1328,84.6],[1333,85.2],[1338,85.9],[1345,85.9],[1352,85.6],[1357,87.2],[1364,87.9],[1371,88.3],[1376,88.4],[1383,87.6],[1390,87.8],[1399,88.2],[1405,88.2],[1414,88.3],[1421,88.7],[1430,89.1],[1436,88.9],[1442,88.5],[1448,87.4],[1455,87.5],[1464,87.8],[1471,87.2],[1478,86.9],[1485,85.9],[1492,86.9],[1498,86.5],[1505,86.3],[1512,86.1],[1521,86.2],[1529,86.5],[1536,86.9],[1543,86.5],[1550,87.5],[1557,87.9],[1566,88.3],[1574,88.7],[1581,88],[1590,87.8],[1597,88.5],[1603,88.9],[1610,88.7],[1619,88.3],[1626,88],[1634,87],[1641,86.7],[1648,86.1],[1657,85.7],[1665,84.9],[1674,85],[1681,84.6],[1687,84.4],
  [1688,58],[1690,60],[1692,64],[1694,65.2],[1697,64.7],[1699,65.8],[1701,68.6],[1704,69.1],[1708,68.6],[1711,66.9],[1714,66.6],[1718,65.5],[1721,66.9],[1726,67.3],[1731,68],[1736,67.5],[1741,67.7],[1746,68.4],[1749,68.6],[1754,68.2],[1759,67.5],[1764,67.9],[1769,68.3],[1774,68.6],[1779,68.4],[1784,68],[1789,67.3],[1794,66.9],[1801,66.5],[1808,66.4],[1814,66.8],[1819,66.9],[1824,66.5],[1829,65.9],[1834,65.8],[1841,65.5],[1846,65.2],[1849,66.5],[1854,67.2],[1859,67],[1864,67.5],[1869,68.4],[1876,68.6],[1882,68.3],[1888,68.6],[1894,68.9],[1901,69.4],[1906,70.8],[1909,71.9],[1913,72.4],[1918,71.9],[1923,71.5],[1927,70.9]
];

const seriesData = [bnStatsAcc, cottaAcc, eataAcc, sarAcc, tentAcc, arttaAcc, sourceAcc];
const seriesColors = ['#e377c2', '#1f77b4', '#ff7f0e', '#8c564b', '#9467bd', '#2ca02c', '#d62728'];
const seriesDash = [null, null, null, null, null, null, '14,6'];

const width = 2335;
const height = 1367;
const plot = {left: 194, right: 2310, top: 21.5, bottom: 1265};
const plotW = plot.right - plot.left;
const plotH = plot.bottom - plot.top;
const fontSize = 37.5;
const textColor = '#262626';
const lineWidth = 3.6;

const xPad = 0.05 * (taskFrames[taskFrames.length - 1] - taskFrames[0]);
const xScale = d3.scaleLinear()
  .domain([taskFrames[0] - xPad, taskFrames[taskFrames.length - 1] + xPad])
  .range([plot.left, plot.right]);
const yScale = d3.scaleLinear().domain([26.5, 103.5]).range([plot.bottom, plot.top]);

const svg = d3.select('#chart').append('svg')
  .attr('width', width)
  .attr('height', height)
  .style('font-family', '"DejaVu Sans", sans-serif');

svg.append('rect').attr('width', width).attr('height', height).attr('fill', '#fff');
svg.append('rect')
  .attr('x', plot.left).attr('y', plot.top)
  .attr('width', plotW).attr('height', plotH)
  .attr('fill', '#eaeaf2');

// grid + tick labels
const yAxis = d3.axisLeft(yScale).tickValues(accuracyTicks).tickSize(-plotW).tickPadding(31).tickFormat(d3.format('d'));
const gy = svg.append('g').attr('transform', 'translate(' + plot.left + ',0)').call(yAxis);
gy.select('.domain').remove();
gy.selectAll('.tick line').attr('stroke', '#fff').attr('stroke-width', 2.7);
gy.selectAll('.tick text').attr('font-size', fontSize).attr('fill', textColor)
  .attr('font-family', '"DejaVu Sans", sans-serif').attr('dy', '0.38em');

const xAxis = d3.axisBottom(xScale).tickValues(taskFrames).tickSize(-plotH).tickPadding(30)
  .tickFormat(function(d, i) { return taskLabels[i]; });
const gx = svg.append('g').attr('transform', 'translate(0,' + plot.bottom + ')').call(xAxis);
gx.select('.domain').remove();
gx.selectAll('.tick line').attr('stroke', '#fff').attr('stroke-width', 2.7);
gx.selectAll('.tick text').attr('font-size', fontSize).attr('fill', textColor)
  .attr('font-family', '"DejaVu Sans", sans-serif');

// axis labels
svg.append('text')
  .attr('x', (plot.left + plot.right) / 2).attr('y', 1356)
  .attr('text-anchor', 'middle').attr('font-size', fontSize).attr('fill', textColor)
  .text('Task');
svg.append('text')
  .attr('transform', 'translate(73,' + ((plot.top + plot.bottom) / 2) + ') rotate(-90)')
  .attr('text-anchor', 'middle').attr('font-size', fontSize).attr('fill', textColor)
  .text('Accuracy [%]');

// lines
svg.append('clipPath').attr('id', 'plot-clip').append('rect')
  .attr('x', plot.left).attr('y', plot.top).attr('width', plotW).attr('height', plotH);

const line = d3.line()
  .x(function(d) { return xScale(d[0]); })
  .y(function(d) { return yScale(d[1]); });

const linesG = svg.append('g').attr('clip-path', 'url(#plot-clip)');
seriesData.forEach(function(data, i) {
  linesG.append('path')
    .datum(data)
    .attr('d', line)
    .attr('fill', 'none')
    .attr('stroke', seriesColors[i])
    .attr('stroke-width', lineWidth)
    .attr('stroke-linejoin', 'round')
    .attr('stroke-linecap', seriesDash[i] ? 'butt' : 'square')
    .attr('stroke-dasharray', seriesDash[i]);
});

// legend
const legend = svg.append('g');
legend.append('rect')
  .attr('x', 1871).attr('y', 843)
  .attr('width', 420).attr('height', 404)
  .attr('rx', 6)
  .attr('fill', 'rgba(234,234,242,0.8)')
  .attr('stroke', 'rgba(204,204,204,0.8)')
  .attr('stroke-width', 2.7);

const rowGap = 56.1;
methodNames.forEach(function(name, i) {
  const y = 873.6 + i * rowGap;
  legend.append('line')
    .attr('x1', 1886).attr('x2', 1963)
    .attr('y1', y).attr('y2', y)
    .attr('stroke', seriesColors[i])
    .attr('stroke-width', lineWidth)
    .attr('stroke-dasharray', seriesDash[i]);
  legend.append('text')
    .attr('x', 1995).attr('y', y + 13.8)
    .attr('font-size', fontSize).attr('fill', textColor)
    .text(name);
});
</script>
</body>
</html>
